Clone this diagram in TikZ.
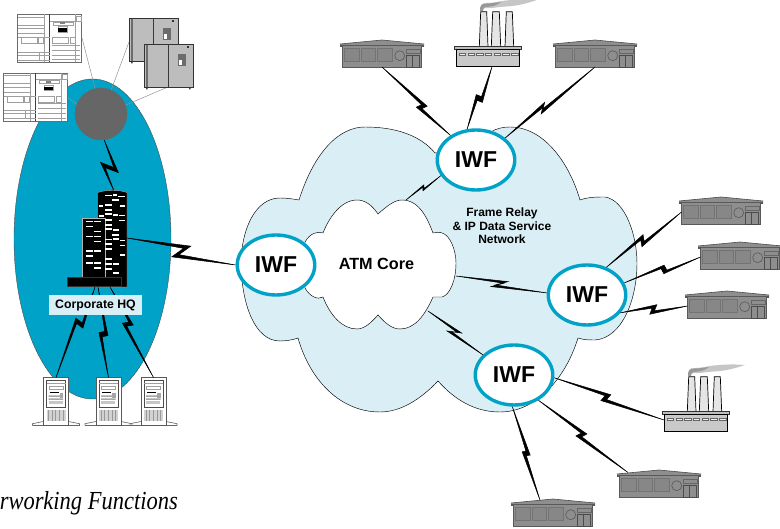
\documentclass[tikz,border=0pt]{standalone}
\usepackage{fontspec}
\setmainfont{Liberation Sans}
\newfontfamily\serifit{Liberation Serif}
\usetikzlibrary{calc,shapes.geometric}
\definecolor{teal1}{HTML}{00A2C7}
\definecolor{pale}{HTML}{DAEEF6}
\definecolor{bldg}{HTML}{8E8E8E}
\tikzset{
  iwf/.style={ellipse,draw=teal1,line width=3.4pt,fill=white,minimum width=77.5pt,minimum height=60pt,inner sep=0pt,font=\bfseries\fontsize{23}{23}\selectfont},
  boltstyle/.style={fill=black,draw=black,line width=.5pt,line join=miter},
  hairgray/.style={line width=.5pt,gray!85},
  eqline/.style={line width=.45pt,gray!75},
  rack/.pic={
    \fill[white] (0,0) rectangle (64,48);
    \draw[line width=.7pt,gray!85!black] (0,0) rectangle (64,48);
    \draw[line width=.9pt,gray!50!black] (32,0) -- (32,48);
    \draw[eqline] (27,0) -- (27,48) (0,2.5) -- (27,2.5);
    \draw[eqline] (0,10.7) -- (27,10.7) (0,14) -- (27,14) (0,19) -- (27,19) (0,23) -- (32,23);
    \draw[eqline] (3.3,23) rectangle (19.3,29) (21,23) rectangle (26,29);
    \draw[eqline] (0,37.3) -- (32,37.3) (0,40.7) -- (32,40.7) (0,45.7) -- (32,45.7);
    \draw[eqline] (22,37.3) -- (22,45.7);
    \draw[eqline] (58.7,1.3) rectangle (63.7,6.3) (32,6.3) -- (64,6.3);
    \draw[eqline] (36,7.3) rectangle (55.3,10.7);
    \fill[gray] (42,8) rectangle (47,10);
    \draw[eqline] (40.3,12) rectangle (49.3,17.3);
    \fill[black] (40.3,13.8) rectangle (49.3,17.3);
    \draw[eqline] (34.3,23) rectangle (51,29) (53,23) rectangle (58,29) (58,0) -- (58,48);
    \foreach \yy in {30.7,35.7,40.7,45}{\draw[eqline] (34,\yy) -- (62,\yy);}
  },
  cabinet/.pic={
    \fill[gray!50!black] (1.5,43) rectangle (3,45) (44.5,43) rectangle (46,45);
    \draw[fill=gray!52,draw=gray!40!black,line width=.8pt] (0,0) rectangle (48.5,43);
    \fill[gray!85!black] (1,0.5) rectangle (3,42.5);
    \draw[gray!45!black,line width=.5pt] (24,0) -- (24,43);
    \fill[gray!85!black] (33,10) rectangle (41,22);
    \fill[white] (34.5,16) rectangle (37.5,21);
    \fill[gray!40!black] (42.5,2) rectangle (44,3.5);
  },
  building/.pic={
    \fill[bldg] (0,4) -- (42,0) -- (84,4) -- (84,6.5) -- (0,6.5) -- cycle;
    \draw[black!70,line width=.6pt] (0,4) -- (42,0) -- (84,4);
    \fill[black!65] (0,4.6) rectangle (84,6.6);
    \fill[bldg] (2.5,6.5) rectangle (81.5,27);
    \draw[black!65,line width=.6pt] (2.5,6.5) -- (2.5,27) -- (81.5,27) -- (81.5,6.5);
    \draw[black!55,line width=.7pt,fill=bldg!95!black] (4.5,8.5) rectangle (19.3,21.7) (21,8.5) rectangle (35.7,21.7) (37.3,8.5) rectangle (52.3,21.7);
    \draw[black!65,line width=.6pt] (59.7,15.7) circle (5);
    \draw[black!60,line width=.6pt] (66.7,9) rectangle (80,13.5);
    \draw[black!70,line width=.7pt] (66.7,15) rectangle (79,27) (72.7,15) -- (72.7,27);
    \coordinate (-port) at (42,27);
    \coordinate (-lw) at (2.5,15);
    \coordinate (-tl) at (11,2.5);
    \coordinate (-tm) at (29,1.2);
  },
  factory/.pic={
    \fill[gray!45] (26,11) .. controls (26,6) and (27,3) .. (33,3) .. controls (40,3) and (46,1) .. (52,.5) .. controls (62,-.5) and (72,-1) .. (83,0) .. controls (74,3) and (64,6) .. (52,6.5) .. controls (44,7) and (38,8.5) .. (31,8) .. controls (29,8.5) and (29,10) .. (29,11) -- cycle;
    \fill[gray!80] (26,11) .. controls (26,6) and (27,3) .. (33,3.5) .. controls (38,3.5) and (42,2.5) .. (47,2) .. controls (44,5) and (38,7) .. (31,7) .. controls (29,8) and (29,10) .. (29,11) -- cycle;
    \foreach \xa/\xb/\xc/\xd in {25.3/26.7/32.7/34,37.3/38.7/45.3/46.7,51/52.3/58.3/59.7}{
      \draw[fill=gray!20,draw=black,line width=.7pt] (\xa,46.7) -- (\xb,11.7) -- (\xc,11.7) -- (\xd,46.7) -- cycle;}
    \draw[fill=gray!50,draw=black!80,line width=.5pt] (0,46.7) rectangle (67.7,49.4);
    \draw[fill=gray!42,draw=black,line width=.8pt] (2,49.4) rectangle (65.3,66.7);
    \foreach \i in {0,...,6}{\draw[fill=gray!12,draw=black!60,line width=.4pt] ({5+8.7*\i},53.3) rectangle ++(6.5,2);}
    \coordinate (-port) at (38,66.7);
    \coordinate (-lw) at (2,55);
  },
  server/.pic={
    \draw[gray!80!black,line width=.6pt] (-11,48) -- (-11,46.2) -- (0,44) (25,44) -- (36,46.2) -- (36,48) -- (-11,48);
    \draw[fill=white,draw=gray!70!black,line width=.7pt] (0,0) rectangle (25,48);
    \draw[fill=white,draw=gray!60!black,line width=.6pt] (3,3) rectangle (22,30);
    \draw[eqline] (3,6) -- (22,6);
    \draw[eqline] (5.5,8.5) rectangle (19.5,11.5);
    \draw[black,line width=.7pt] (6,15) -- (15,15);
    \fill[gray!70] (5,18) rectangle (19.5,19.5) (5,21) rectangle (19.5,22.5);
    \fill[gray!45] (5,24) rectangle (19,27);
    \fill[gray!70] (16,16) rectangle (19.5,21);
    \fill[gray!35] (3,33) rectangle (22,44);
    \foreach \i in {0,...,4}{\draw[gray!80,line width=.5pt] ({5+3.6*\i},33) -- ++(0,11);}
    \coordinate (-top) at (12.5,0);
  }
}
% \bolt[jump width]{from}{to}{position of the zig}{half jump along}{half jump across}
\newcommand\bolt[6][5]{%
  \coordinate (bm) at ($(#2)!#4!(#3)$);
  \pgfmathsetmacro\qa{#5-#1}\pgfmathsetmacro\qb{#6-0.6*#1}%
  \filldraw[boltstyle] (#2)
   -- ($(bm)!#5pt!(#3)!#6pt!90:(#3)$)
   -- ($(bm)!-\qa pt!(#3)!-\qb pt!90:(#3)$)
   -- (#3)
   -- ($(bm)!-#5pt!(#3)!-#6pt!90:(#3)$)
   -- ($(bm)!\qa pt!(#3)!\qb pt!90:(#3)$)
   -- cycle;}
\begin{document}
\begin{tikzpicture}[x=1pt,y=-1pt]
\useasboundingbox (0,0) rectangle (780,529);
\clip (0,0) rectangle (780,529);
% campus ellipse and its hub
\node[ellipse,draw=black!70,line width=.4pt,fill=teal1,minimum width=157pt,minimum height=320pt,inner sep=0pt] (campus) at (92.5,239) {};
\coordinate (hubA) at (82,38);
\coordinate (hubB) at (129,42);
\coordinate (hubC) at (168,87);
\coordinate (hubD) at (67,97);
\node[circle,draw=black!60,line width=.4pt,fill=gray!80!black,minimum size=52pt,inner sep=0pt] (hub) at (101,114) {};
\draw[hairgray] (hubA) -- (hub.103);
\draw[hairgray] (hubB) -- (hub.67);
\draw[hairgray] (hubC) -- (hub.20);
\draw[hairgray] (hubD) -- (hub.158);
\pic (rack1) at (17.5,14.5) {rack};
\pic (rack2) at (3.5,73) {rack};
\pic (cab1) at (129.5,18.5) {cabinet};
\pic (cab2) at (144.5,44.5) {cabinet};
% servers
\pic (srv1) at (43.5,377.5) {server};
\pic (srv2) at (96,377.5) {server};
\pic (srv3) at (141,377.5) {server};
% headquarters tower
\coordinate (hqTop) at (114,191);
\coordinate (hqEast) at (127,238);
\coordinate (hqB1) at (95,287);
\coordinate (hqB2) at (98,287);
\coordinate (hqB3) at (110,287);
\bolt[6]{hub.-83}{hqTop}{.54}{6.7}{7.8}
\bolt[4.5]{srv1-top}{hqB1}{.6}{3.2}{5.2}
\bolt[4.5]{srv2-top}{hqB2}{.48}{2}{4.3}
\bolt[4.5]{srv3-top}{hqB3}{.59}{3.2}{4.5}
\draw[fill=black,draw=gray!60,line width=.4pt] (97.7,287) -- (97.7,192.5) .. controls (107,189.5) and (118,189.5) .. (127,192.5) -- (127,287) -- cycle;
\draw[fill=black,draw=gray!60,line width=.4pt] (82.3,278) -- (82.3,218.5) -- (105,218.5) -- (105,278) -- cycle;
\draw[fill=black,draw=gray!40!black,line width=.4pt] (67.3,277.5) rectangle (120.7,286.7);
\begin{scope}[shift={(60,185)},x=.3333pt,y=-.3333pt]
\foreach \a/\b/\c in {135/157/32,160/170/30,175/195/35,157/178/46,118/130/63,135/157/61,180/195/64,135/157/75,118/132/93,135/155/88,158/175/90,178/195/92,135/155/105,178/195/107,135/157/120,135/157/133,160/178/135,157/178/150,135/155/164,160/178/162,180/195/167,135/157/178,180/195/182,135/155/193,180/195/211,135/157/222,135/157/237,158/178/238,135/155/252,158/178/265,78/98/110,102/122/110,78/98/125,102/122/140,78/98/155,102/122/155,102/122/170,78/98/198,102/122/198,78/98/213,78/98/235,102/122/235,102/122/250}
  {\fill[white] (\a,\c-2.5) rectangle (\b,\c+2.5);}
\end{scope}
\node[fill=pale,inner sep=0pt,minimum width=93pt,minimum height=20pt,font=\bfseries\fontsize{12.3}{12}\selectfont] (hqlabel) at (95.5,305) {Corporate HQ\hspace{4pt}};
% service network cloud
\path[fill=pale,draw=black,line width=.45pt] (299,200)
 .. controls (315,150) and (340,127) .. (365,127)
 .. controls (395,127) and (420,135) .. (435,153)
 -- (476,150)
 .. controls (485,133) and (495,127) .. (510,127)
 .. controls (545,127) and (570,165) .. (580,200)
 .. controls (588,197) and (597,197) .. (605,197)
 .. controls (625,200) and (637,235) .. (637,263)
 .. controls (637,300) and (622,338) .. (595,340)
 .. controls (590,340) and (584,340) .. (578,338)
 .. controls (565,380) and (535,412) .. (500,412)
 .. controls (475,412) and (455,400) .. (438,381)
 .. controls (420,400) and (400,412) .. (380,412)
 .. controls (340,412) and (310,380) .. (298,338)
 .. controls (293,340) and (285,341) .. (280,341)
 .. controls (255,341) and (242,305) .. (241,265)
 .. controls (241,230) and (255,198) .. (280,198)
 .. controls (287,198) and (293,199) .. (299,200) -- cycle;
% ATM core cloud
\path[fill=white,draw=black,line width=.45pt] (378,214)
 .. controls (388,205) and (395,200) .. (402,200)
 .. controls (420,200) and (428,220) .. (433,233)
 .. controls (436,232) and (440,232) .. (442,233)
 .. controls (450,235) and (456,250) .. (456,263)
 .. controls (456,280) and (450,295) .. (442,297)
 .. controls (440,297) and (436,297) .. (433,297)
 .. controls (425,315) and (415,329) .. (400,329)
 .. controls (392,329) and (385,323) .. (378,315)
 .. controls (371,323) and (364,329) .. (357,329)
 .. controls (342,329) and (330,315) .. (323,297)
 .. controls (318,300) and (310,297) .. (305,288)
 -- (305,242)
 .. controls (310,233) and (318,231) .. (323,233)
 .. controls (328,220) and (340,200) .. (357,200)
 .. controls (365,200) and (372,205) .. (378,214) -- cycle;
\node[inner sep=0pt,font=\bfseries\fontsize{16.2}{16}\selectfont] (atmlabel) at (376.5,264) {ATM Core};
\node[inner sep=0pt,align=center,font=\bfseries\fontsize{12}{13.5}\selectfont] (frlabel) at (502,226) {Frame Relay\\\& IP Data Service\\Network};
\coordinate (atmT) at (406,200);
\coordinate (atmR) at (456,276);
\coordinate (atmB) at (428,311);
% remote sites
\pic (b1) at (340,40) {building};
\pic (f1) at (454,0) {factory};
\pic (b3) at (553,40) {building};
\pic (b4) at (679,197) {building};
\pic (b5) at (698,242) {building};
\pic (b6) at (685,291) {building};
\pic (f2) at (662,365) {factory};
\pic (b7) at (617,470) {building};
\pic (b8) at (511,499) {building};
% interworking functions
\node[iwf] (iwfL) at (276,265) {IWF};
\node[iwf] (iwfT) at (476,160) {IWF};
\node[iwf] (iwfR) at (587,295) {IWF};
\node[iwf] (iwfB) at (514,375) {IWF};
% links
\bolt[6.5]{hqEast}{iwfL.180}{.5}{8}{7.5}
\bolt{b1-port}{iwfT.136}{.58}{3.5}{4.2}
\bolt{f1-port}{iwfT.106}{.51}{2.5}{4.3}
\bolt{b3-port}{iwfT.37}{.58}{5}{3.5}
\bolt[2.2]{atmT}{iwfT.204}{.5}{2}{2.2}
\bolt[4]{atmR}{iwfR.177}{.48}{8}{4}
\bolt[4]{atmB}{iwfB.147}{.48}{6.5}{3.8}
\bolt{iwfR.55}{b4-lw}{.48}{4}{4.5}
\bolt[4]{iwfR.18}{b5-lw}{.52}{1.5}{4}
\bolt{iwfR.-28}{b6-lw}{.49}{4}{4.4}
\bolt{iwfB.-4}{f2-lw}{.47}{3.6}{4.5}
\bolt{iwfB.-46}{b7-tl}{.48}{3.7}{4.2}
\bolt{iwfB.-93}{b8-tm}{.5}{2.7}{3.4}
\node[anchor=base east,inner sep=0pt] (caption) at (178,510) {\scalebox{.865}[1]{\serifit\itshape\fontsize{26}{28}\selectfont rworking Functions}};
\end{tikzpicture}
\end{document}
